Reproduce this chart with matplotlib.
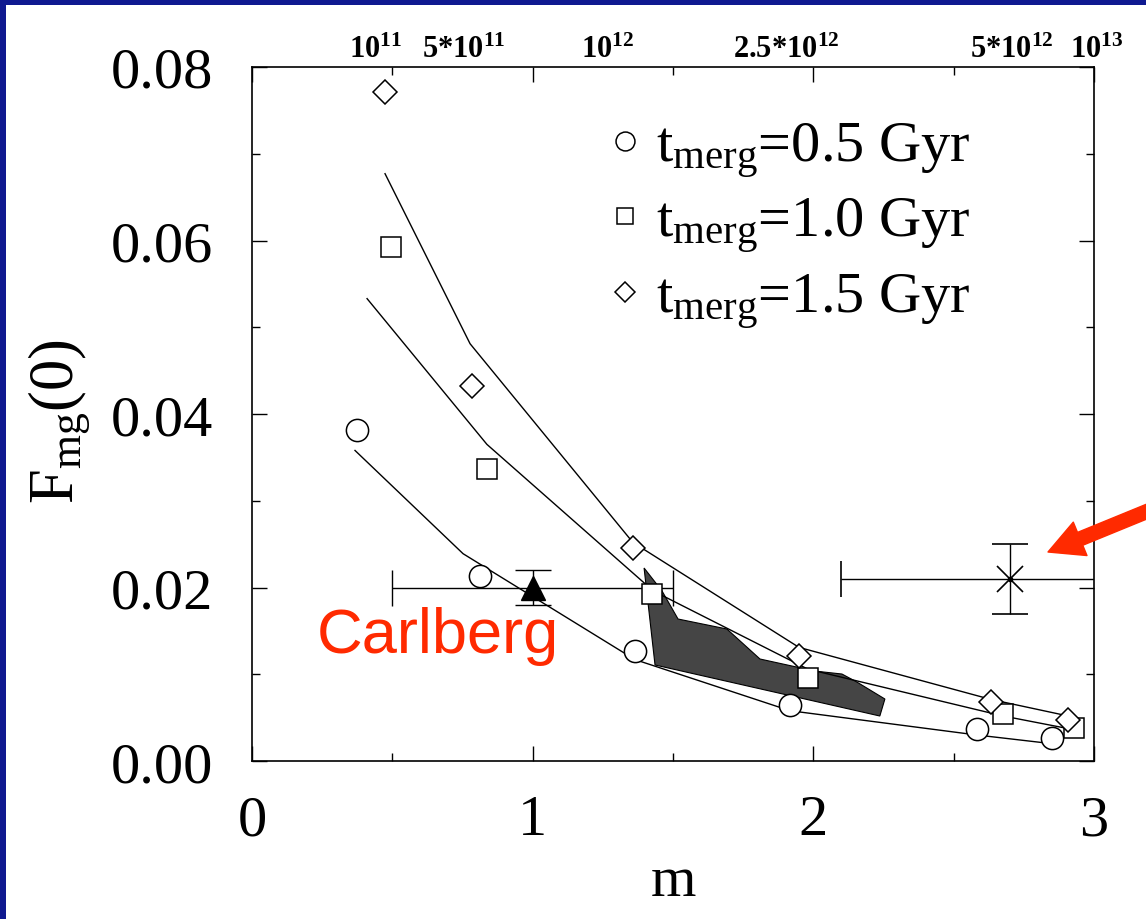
import numpy as np
import matplotlib.pyplot as plt
from matplotlib.patches import Rectangle
from matplotlib.ticker import MultipleLocator, FormatStrFormatter
from matplotlib.transforms import blended_transform_factory

# model points, t_merg = 0.5 / 1.0 / 1.5 Gyr
m_05 = [0.374, 0.812, 1.364, 1.917, 2.583, 2.850]
f_05 = [0.0382, 0.0213, 0.0127, 0.0065, 0.0037, 0.0027]
m_10 = [0.495, 0.837, 1.425, 1.981, 2.675, 2.928]
f_10 = [0.0593, 0.0337, 0.0193, 0.0096, 0.0054, 0.0038]
m_15 = [0.474, 0.784, 1.357, 1.949, 2.633, 2.907]
f_15 = [0.0771, 0.0432, 0.0246, 0.0121, 0.0068, 0.0047]

# fitted curves
fit_05_m = [0.367, 0.752, 1.364, 1.917, 2.583, 2.850]
fit_05_f = [0.0358, 0.0239, 0.0117, 0.0058, 0.0030, 0.0020]
fit_10_m = [0.41, 0.837, 1.43, 1.98, 2.675, 2.93]
fit_10_f = [0.0533, 0.0365, 0.0196, 0.0106, 0.0052, 0.0036]
fit_15_m = [0.474, 0.777, 1.357, 1.949, 2.633, 2.907]
fit_15_f = [0.0677, 0.0481, 0.0252, 0.0131, 0.0071, 0.0052]

# shaded region
poly_m = [1.397, 1.461, 1.518, 1.692, 1.810, 2.006, 2.102, 2.155, 2.255, 2.237, 1.436]
poly_f = [0.02225, 0.0196, 0.01637, 0.01522, 0.01176, 0.01037, 0.01003, 0.00911, 0.00715, 0.00519, 0.01107]

# observations
carl_m, carl_f, carl_merr, carl_ferr = 1.0, 0.020, 0.5, 0.002
obs_m, obs_f, obs_merr, obs_ferr = 2.7, 0.021, 0.6, 0.004

top_pos = [0.44, 0.755, 1.268, 1.905, 2.706, 3.01]
top_lab = [r'$\mathbf{10^{11}}$', r'5*$\mathbf{10^{11}}$', r'$\mathbf{10^{12}}$',
           r'2.5*$\mathbf{10^{12}}$', r'5*$\mathbf{10^{12}}$', r'$\mathbf{10^{13}}$']

labels = [r'$\mathrm{t_{merg}}$=0.5 Gyr', r'$\mathrm{t_{merg}}$=1.0 Gyr', r'$\mathrm{t_{merg}}$=1.5 Gyr']

plt.rcParams['font.family'] = 'Liberation Serif'
plt.rcParams['mathtext.fontset'] = 'custom'
plt.rcParams['mathtext.rm'] = 'Liberation Serif'
plt.rcParams['mathtext.it'] = 'Liberation Serif:italic'
plt.rcParams['mathtext.bf'] = 'Liberation Serif:bold'

red = '#ff2a00'
fig = plt.figure(figsize=(11.46, 9.2), dpi=100, facecolor='#0f1990')
fig.add_artist(Rectangle((6 / 1146, 0), 1, 1 - 6 / 920, transform=fig.transFigure,
                         facecolor='white', edgecolor='none', zorder=-10))
ax = fig.add_axes([0.2199, 0.1717, 0.7347, 0.7544])

ax.fill(poly_m, poly_f, facecolor='#454545', edgecolor='black', lw=0.8, zorder=1)
for fm, ff in [(fit_05_m, fit_05_f), (fit_10_m, fit_10_f), (fit_15_m, fit_15_f)]:
    ax.plot(fm, ff, color='black', lw=1.0, zorder=2)

ax.errorbar(carl_m, carl_f, xerr=carl_merr, yerr=carl_ferr, fmt='^', color='black', ms=17,
            capsize=13, elinewidth=1, capthick=1, zorder=3)
ax.errorbar(obs_m, obs_f, xerr=obs_merr, yerr=obs_ferr, fmt='x', color='black', ms=19, mew=1.2,
            capsize=13, elinewidth=1, capthick=1, zorder=3)
ax.plot(obs_m, obs_f, 'o', color='black', ms=3, zorder=3)

h1, = ax.plot(m_05, f_05, 'o', ms=16, mfc='white', mec='black', mew=1.1, zorder=4, label=labels[0])
h2, = ax.plot(m_10, f_10, 's', ms=14, mfc='white', mec='black', mew=1.1, zorder=4, label=labels[1])
h3, = ax.plot(m_15, f_15, 'D', ms=12, mfc='white', mec='black', mew=1.1, zorder=4, label=labels[2])

ax.legend(handles=[h1, h2, h3], loc='upper left', bbox_to_anchor=(0.424, 0.923), frameon=False,
          fontsize=42, handlelength=0.55, handletextpad=0.25, borderpad=0, borderaxespad=0,
          labelspacing=0.27, markerscale=0.85)

ax.set_xlim(0, 3)
ax.set_ylim(0, 0.08)
ax.xaxis.set_major_locator(MultipleLocator(1))
ax.xaxis.set_minor_locator(MultipleLocator(0.5))
ax.yaxis.set_major_locator(MultipleLocator(0.02))
ax.yaxis.set_minor_locator(MultipleLocator(0.01))
ax.yaxis.set_major_formatter(FormatStrFormatter('%.2f'))
ax.tick_params(which='both', direction='in', top=True, right=True, width=1)
ax.tick_params(which='major', length=11, labelsize=42)
ax.tick_params(which='minor', length=6)
ax.tick_params(axis='y', pad=28)
ax.tick_params(axis='x', pad=24)
for s in ax.spines.values():
    s.set_linewidth(1.2)

trans = blended_transform_factory(ax.transData, ax.transAxes)
for x, t in zip(top_pos, top_lab):
    ax.text(x, 1.015, t, transform=trans, ha='center', va='baseline', fontsize=22, fontweight='bold')

ax.text(0.232, 0.01257, 'Carlberg', fontsize=45.5, color=red, family='Liberation Sans', va='baseline')

ax.annotate('', xy=(1048, 367), xycoords='figure pixels', xytext=(1175, 419), textcoords='figure pixels',
            arrowprops=dict(arrowstyle='simple,head_length=1.25,head_width=1.3,tail_width=0.5',
                            color=red, mutation_scale=20, shrinkA=0, shrinkB=0),
            annotation_clip=False)

ax.set_ylabel(r'$\mathrm{F_{mg}(0)}$', fontsize=45)
ax.yaxis.set_label_coords(-0.19, 0.49)
ax.set_xlabel('m', fontsize=42)
ax.xaxis.set_label_coords(0.5, -0.135)

fig.savefig('out.png', dpi=100, facecolor=fig.get_facecolor())
